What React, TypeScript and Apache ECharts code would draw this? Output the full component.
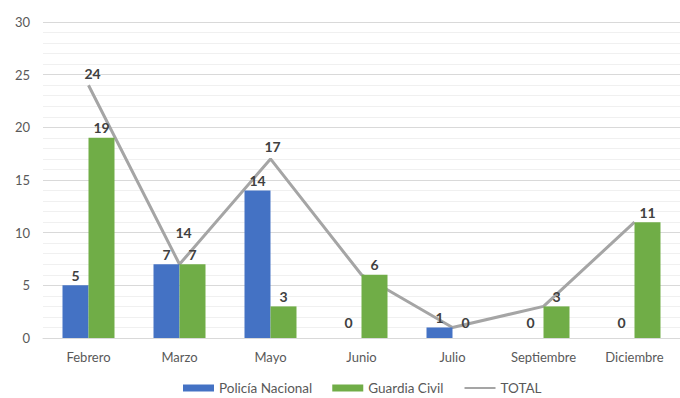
import React, { useEffect, useRef } from "react";
import * as echarts from "echarts";

const categories = ["Febrero", "Marzo", "Mayo", "Junio", "Julio", "Septiembre", "Diciembre"];
const policiaNacional = [5, 7, 14, 0, 1, 0, 0];
const guardiaCivil = [19, 7, 3, 6, 0, 3, 11];
// TOTAL line as drawn in the picture (Marzo point sits at 7) and its labels
const totalLine = [24, 7, 17, 6, 1, 3, 11];
const totalLabels = ["24", "14", "17", "", "", "", ""];
const yTicks = [0, 5, 10, 15, 20, 25, 30];

const FONT = "Lato, 'Liberation Sans', sans-serif";

export default function App() {
  const ref = useRef<HTMLDivElement>(null);
  useEffect(() => {
    if (!ref.current) return;
    const chart = echarts.init(ref.current, null, { renderer: "svg" });
    const labelStyle = {
      show: true,
      position: "top" as const,
      distance: 3,
      color: "#404040",
      fontWeight: "bold" as const,
      fontSize: 14,
      fontFamily: FONT,
    };
    const barData = (arr: number[]) =>
      arr.map((v) => (v === 0 ? { value: v, label: { offset: [0, -6] } } : v));
    chart.setOption({
      animation: false,
      backgroundColor: "#ffffff",
      textStyle: { fontFamily: FONT },
      grid: { left: 43, right: -6, top: 22, bottom: 60 },
      legend: {
        bottom: -2,
        left: 178,
        itemGap: 20,
        itemWidth: 31,
        itemHeight: 7,
        textStyle: { color: "#595959", fontSize: 13.5, fontFamily: FONT },
        data: [
          { name: "Policía Nacional", icon: "rect" },
          { name: "Guardia Civil", icon: "rect" },
          { name: "TOTAL" },
        ],
      },
      xAxis: {
        type: "category",
        data: categories,
        axisLine: { show: true, lineStyle: { color: "#d9d9d9", width: 1 } },
        axisTick: { show: false },
        axisLabel: { color: "#595959", fontSize: 13, margin: 12, fontFamily: FONT },
      },
      yAxis: {
        type: "value",
        min: yTicks[0],
        max: yTicks[yTicks.length - 1],
        interval: 5,
        axisLine: { show: false },
        axisTick: { show: false },
        axisLabel: { color: "#595959", fontSize: 13, margin: 13, fontFamily: FONT },
        splitLine: { show: true, lineStyle: { color: "#d9d9d9", width: 1 } },
        minorTick: { show: false, splitNumber: 5 },
        minorSplitLine: { show: true, lineStyle: { color: "#f0f0f0", width: 1 } },
      },
      series: [
        {
          name: "Policía Nacional",
          type: "bar",
          data: barData(policiaNacional),
          barWidth: 26,
          barGap: "0%",
          itemStyle: { color: "#4472C4" },
          label: labelStyle,
          z: 4,
        },
        {
          name: "Guardia Civil",
          type: "bar",
          data: barData(guardiaCivil),
          barWidth: 26,
          barGap: "0%",
          itemStyle: { color: "#70AD47" },
          label: labelStyle,
          z: 4,
        },
        {
          name: "TOTAL",
          type: "line",
          data: totalLine.map((v, i) => ({
            value: v,
            label: {
              formatter: totalLabels[i],
              show: totalLabels[i] !== "",
              offset: i === 1 ? [4, -20] : i === 0 ? [4, 0] : [2, 0],
            },
          })),
          symbol: "circle",
          symbolSize: 2,
          showSymbol: true,
          lineStyle: { color: "#A5A5A5", width: 3 },
          itemStyle: { color: "rgba(165,165,165,0)", borderWidth: 0 },
          label: { ...labelStyle, distance: 4 },
          z: 3,
        },
      ],
    });
    return () => chart.dispose();
  }, []);
  return (
    <div
      ref={ref}
      style={{ position: "fixed", left: 0, top: 0, width: 680, height: 398 }}
    />
  );
}
